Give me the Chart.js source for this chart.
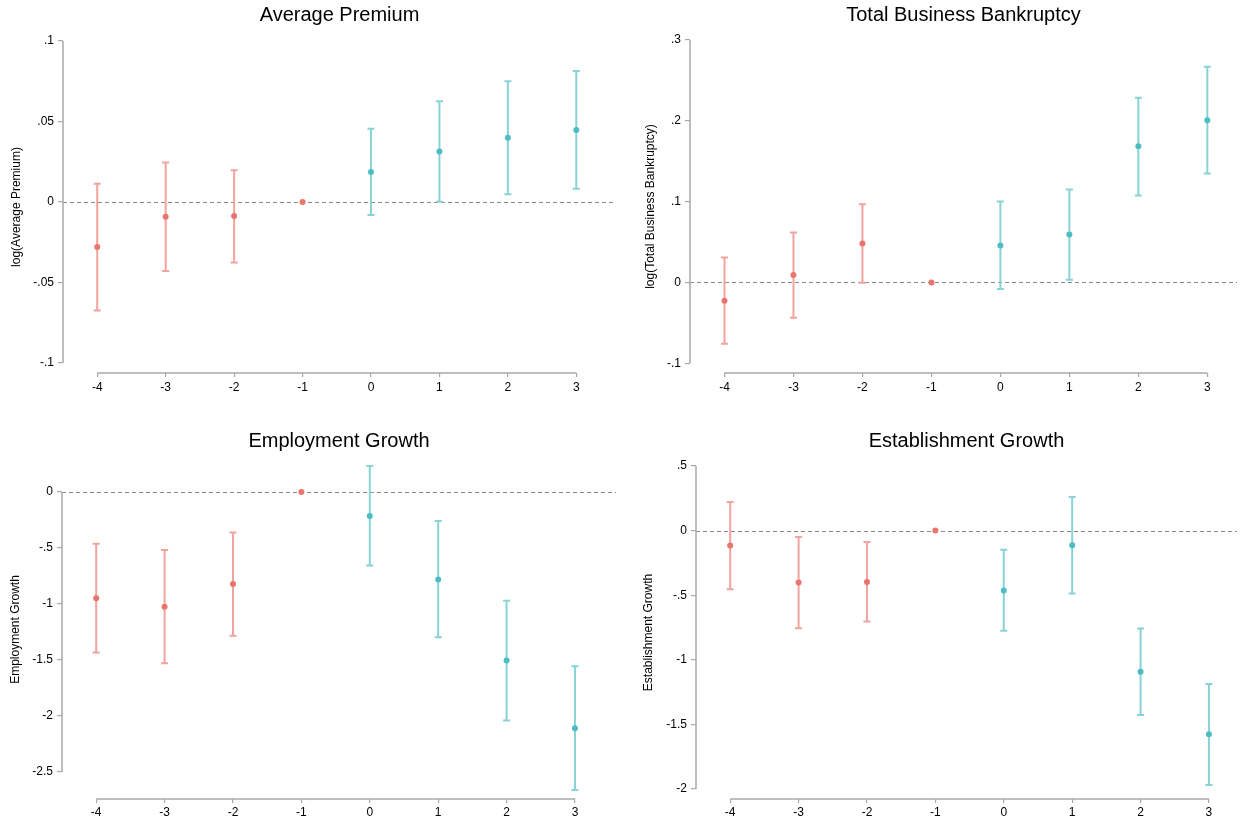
<!DOCTYPE html>
<html>
<head>
<meta charset="utf-8">
<title>Event study panels</title>
<script src="https://cdn.jsdelivr.net/npm/chart.js@4.4.1/dist/chart.umd.min.js"></script>
<style>
  html, body { margin: 0; padding: 0; background: #fff; }
  #wrap { position: relative; width: 1241px; height: 822px; overflow: hidden; }
  #wrap canvas { position: absolute; }
</style>
</head>
<body>
<div id="wrap">
  <canvas id="premiumChart" width="620" height="410" style="left:0;top:0"></canvas>
  <canvas id="bankruptcyChart" width="621" height="410" style="left:620px;top:0"></canvas>
  <canvas id="employmentChart" width="620" height="412" style="left:0;top:410px"></canvas>
  <canvas id="establishmentChart" width="621" height="412" style="left:620px;top:410px"></canvas>
</div>
<script>
// Event-study estimates: point estimate + 95% CI per period

const periods = [-4, -3, -2, -1, 0, 1, 2, 3];
const periodLabels = ['-4', '-3', '-2', '-1', '0', '1', '2', '3'];

// Average Premium
const premiumCoef  = [-0.028, -0.0091, -0.0087, 0, 0.0186, 0.0314, 0.0399, 0.0448];
const premiumLower = [-0.0674, -0.0428, -0.0376, null, -0.0081, 0.0002, 0.0048, 0.0083];
const premiumUpper = [0.0114, 0.0246, 0.0198, null, 0.0455, 0.0626, 0.075, 0.0814];
const premiumTicks = [-0.1, -0.05, 0, 0.05, 0.1];
const premiumTickLabels = ['-.1', '-.05', '0', '.05', '.1'];

// Total Business Bankruptcy
const bankruptcyCoef  = [-0.0227, 0.0091, 0.0482, 0, 0.0457, 0.0593, 0.1685, 0.2007];
const bankruptcyLower = [-0.0758, -0.0437, -0.0004, null, -0.0082, 0.0033, 0.1075, 0.1347];
const bankruptcyUpper = [0.0309, 0.0618, 0.0968, null, 0.1001, 0.115, 0.2287, 0.267];
const bankruptcyTicks = [-0.1, 0, 0.1, 0.2, 0.3];
const bankruptcyTickLabels = ['-.1', '0', '.1', '.2', '.3'];

// Employment Growth
const employmentCoef  = [-0.948, -1.025, -0.822, 0, -0.215, -0.781, -1.505, -2.11];
const employmentLower = [-1.433, -1.529, -1.284, null, -0.656, -1.296, -2.041, -2.661];
const employmentUpper = [-0.462, -0.518, -0.361, null, 0.232, -0.259, -0.971, -1.555];
const employmentTicks = [-2.5, -2, -1.5, -1, -0.5, 0];
const employmentTickLabels = ['-2.5', '-2', '-1.5', '-1', '-.5', '0'];

// Establishment Growth
const establishmentCoef  = [-0.116, -0.402, -0.397, 0, -0.464, -0.113, -1.093, -1.577];
const establishmentLower = [-0.454, -0.755, -0.704, null, -0.776, -0.487, -1.428, -1.969];
const establishmentUpper = [0.222, -0.049, -0.088, null, -0.149, 0.26, -0.758, -1.188];
const establishmentTicks = [-2, -1.5, -1, -0.5, 0, 0.5];
const establishmentTickLabels = ['-2', '-1.5', '-1', '-.5', '0', '.5'];

const FONT = "'Liberation Sans', Arial, Helvetica, sans-serif";
const AXIS_COLOR = '#a9a9a9';
const PRE_POINT = '#e8766d';
const PRE_BAR = '#f2a39d';
const POST_POINT = '#4dbdc3';
const POST_BAR = '#89d2d6';

// Draws the zero line, the CI whiskers and Stata-style axis lines
const eventStudyPlugin = {
  id: 'eventStudy',
  beforeDatasetsDraw(chart) {
    const { ctx, chartArea, scales: { x, y } } = chart;
    ctx.save();

    const y0 = Math.round(y.getPixelForValue(0)) + 0.5;
    ctx.strokeStyle = '#8a8a8a';
    ctx.lineWidth = 1.2;
    ctx.setLineDash([4, 3]);
    ctx.beginPath();
    ctx.moveTo(chartArea.left, y0);
    ctx.lineTo(chartArea.right, y0);
    ctx.stroke();
    ctx.setLineDash([]);

    chart.data.datasets.forEach((ds) => {
      ctx.strokeStyle = ds.barColor;
      ctx.lineWidth = 2;
      ds.data.forEach(pt => {
        if (pt.lo == null || pt.hi == null) return;
        const px = x.getPixelForValue(pt.x);
        const top = y.getPixelForValue(pt.hi);
        const bot = y.getPixelForValue(pt.lo);
        ctx.beginPath();
        ctx.moveTo(px, top);
        ctx.lineTo(px, bot);
        ctx.moveTo(px - 3.5, top);
        ctx.lineTo(px + 3.5, top);
        ctx.moveTo(px - 3.5, bot);
        ctx.lineTo(px + 3.5, bot);
        ctx.stroke();
      });
    });
    ctx.restore();
  },
  afterDraw(chart) {
    const { ctx, chartArea, scales: { x, y } } = chart;
    const yt = y.ticks;
    const xt = x.ticks;
    ctx.save();
    ctx.strokeStyle = AXIS_COLOR;
    ctx.lineWidth = 1.5;
    ctx.beginPath();
    ctx.moveTo(chartArea.left, y.getPixelForValue(yt[0].value));
    ctx.lineTo(chartArea.left, y.getPixelForValue(yt[yt.length - 1].value));
    ctx.moveTo(x.getPixelForValue(xt[0].value), chartArea.bottom);
    ctx.lineTo(x.getPixelForValue(xt[xt.length - 1].value), chartArea.bottom);
    ctx.stroke();
    ctx.restore();
  }
};

function buildPoints(coef, lower, upper) {
  return periods.map((p, i) => ({ x: p, y: coef[i], lo: lower[i], hi: upper[i] }));
}

function makePanel(canvasId, cfg) {
  const points = buildPoints(cfg.coef, cfg.lower, cfg.upper);
  const pre = points.filter(pt => pt.x < 0);
  const post = points.filter(pt => pt.x >= 0);

  return new Chart(document.getElementById(canvasId), {
    type: 'scatter',
    data: {
      datasets: [{
        label: 'Pre',
        data: pre,
        backgroundColor: PRE_POINT,
        pointRadius: 3,
        pointBorderWidth: 0,
        barColor: PRE_BAR
      }, {
        label: 'Post',
        data: post,
        backgroundColor: POST_POINT,
        pointRadius: 3,
        pointBorderWidth: 0,
        barColor: POST_BAR
      }]
    },
    options: {
      responsive: false,
      animation: false,
      devicePixelRatio: 1,
      layout: { padding: 0 },
      plugins: {
        legend: { display: false },
        tooltip: { enabled: false },
        title: {
          display: true,
          text: cfg.title,
          fullSize: false,
          color: '#000',
          font: { family: FONT, size: 20, weight: 'normal' },
          padding: { top: cfg.titleTop, bottom: cfg.titleBottom }
        }
      },
      scales: {
        x: {
          type: 'linear',
          min: -4.5,
          max: cfg.xMax,
          afterBuildTicks: s => { s.ticks = periods.map(v => ({ value: v })); },
          afterFit: s => { s.height = cfg.xHeight; },
          grid: { display: true, drawOnChartArea: false, drawTicks: true, tickLength: 4, color: AXIS_COLOR, lineWidth: 1.2 },
          border: { display: false },
          ticks: {
            callback: (v, i) => periodLabels[i],
            padding: cfg.xPad,
            color: '#000',
            font: { family: FONT, size: 12 },
            maxRotation: 0,
            autoSkip: false
          }
        },
        y: {
          type: 'linear',
          min: cfg.yMin,
          max: cfg.yMax,
          afterBuildTicks: s => { s.ticks = cfg.ticks.map(v => ({ value: v })); },
          afterFit: s => { s.width = cfg.yWidth; },
          grid: { display: true, drawOnChartArea: false, drawTicks: true, tickLength: 5, color: AXIS_COLOR, lineWidth: 1.2 },
          border: { display: false },
          ticks: {
            callback: (v, i) => cfg.tickLabels[i],
            padding: 4,
            color: '#000',
            font: { family: FONT, size: 12 }
          },
          title: {
            display: true,
            text: cfg.yTitle,
            color: '#000',
            font: { family: FONT, size: 12 },
            padding: { top: cfg.yTitlePad, bottom: 0 }
          }
        }
      }
    },
    plugins: [eventStudyPlugin]
  });
}

makePanel('premiumChart', {
  title: 'Average Premium',
  yTitle: 'log(Average Premium)',
  coef: premiumCoef, lower: premiumLower, upper: premiumUpper,
  ticks: premiumTicks, tickLabels: premiumTickLabels,
  yMin: -0.1062, yMax: 0.1, xMax: 3.58,
  yWidth: 63, xHeight: 37, xPad: 3,
  titleTop: 3, titleBottom: 14, yTitlePad: 9
});

makePanel('bankruptcyChart', {
  title: 'Total Business Bankruptcy',
  yTitle: 'log(Total Business Bankruptcy)',
  coef: bankruptcyCoef, lower: bankruptcyLower, upper: bankruptcyUpper,
  ticks: bankruptcyTicks, tickLabels: bankruptcyTickLabels,
  yMin: -0.112, yMax: 0.3, xMax: 3.43,
  yWidth: 70, xHeight: 37, xPad: 3,
  titleTop: 3, titleBottom: 13, yTitlePad: 23
});

makePanel('employmentChart', {
  title: 'Employment Growth',
  yTitle: 'Employment Growth',
  coef: employmentCoef, lower: employmentLower, upper: employmentUpper,
  ticks: employmentTicks, tickLabels: employmentTickLabels,
  yMin: -2.741, yMax: 0.2854, xMax: 3.6,
  yWidth: 62, xHeight: 23, xPad: 2,
  titleTop: 19, titleBottom: 7, yTitlePad: 8
});

makePanel('establishmentChart', {
  title: 'Establishment Growth',
  yTitle: 'Establishment Growth',
  coef: establishmentCoef, lower: establishmentLower, upper: establishmentUpper,
  ticks: establishmentTicks, tickLabels: establishmentTickLabels,
  yMin: -2.0773, yMax: 0.5, xMax: 3.41,
  yWidth: 76, xHeight: 23, xPad: 2,
  titleTop: 19, titleBottom: 13, yTitlePad: 21
});
</script>
</body>
</html>
